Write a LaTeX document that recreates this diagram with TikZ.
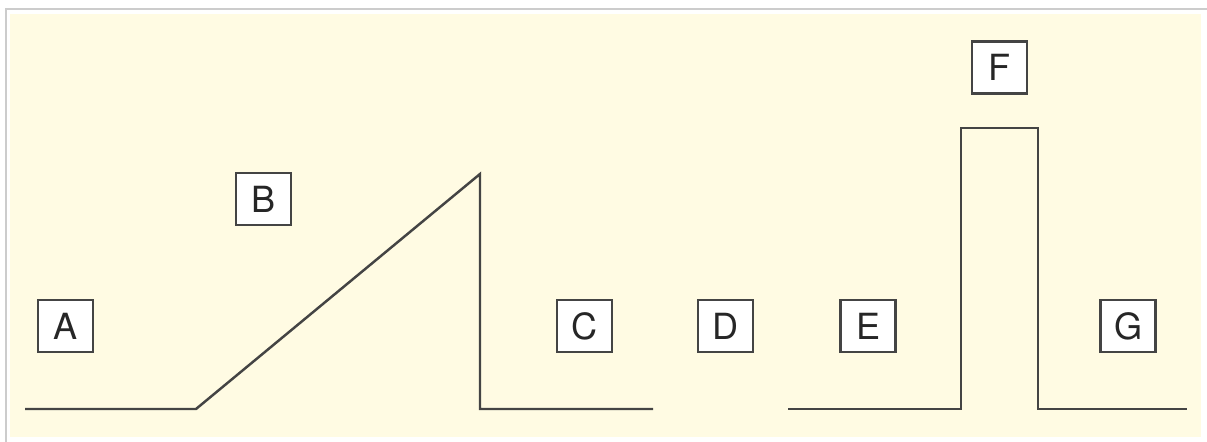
\documentclass[tikz,border=0pt]{standalone}
\usepackage{fontspec}
\setmainfont{TeX Gyre Heros}
\definecolor{paper}{HTML}{FFFBE3}
\definecolor{frame}{HTML}{CCCCCC}
\definecolor{ink}{HTML}{444444}
\begin{document}
\begin{tikzpicture}[
    font=\fontsize{20.5}{24}\selectfont,
    trace/.style={draw=ink, line width=1.4pt, line join=miter},
    tag/.style={draw=ink, fill=white, line width=1.35pt, text=black!85,
        minimum width=1.1cm, minimum height=1.04cm, inner sep=0pt},
]

% Page and background
\useasboundingbox (0,0) rectangle (24.14,8.84);
\fill[paper] (0.2,0.1) rectangle (24.02,8.56);
\draw[frame, line width=1.2pt] (0.12,0) -- (0.12,8.66) -- (24.14,8.66);

% Left trace (ramp)
\draw[trace] (0.5,0.66) -- (3.92,0.66) -- (9.6,5.36) -- (9.6,0.66) -- (13.06,0.66);

% Right trace (pulse)
\draw[trace] (15.76,0.66) -- (19.22,0.66) -- (19.22,6.28) -- (20.76,6.28)
    -- (20.76,0.66) -- (23.74,0.66);

% Labels
\node[tag] (A) at (1.31,2.32) {A};
\node[tag] (B) at (5.27,4.86) {B};
\node[tag] (C) at (11.69,2.32) {C};
\node[tag] (D) at (14.51,2.32) {D};
\node[tag] (E) at (17.36,2.32) {E};
\node[tag] (F) at (19.99,7.49) {F};
\node[tag] (G) at (22.56,2.32) {G};

\end{tikzpicture}
\end{document}
